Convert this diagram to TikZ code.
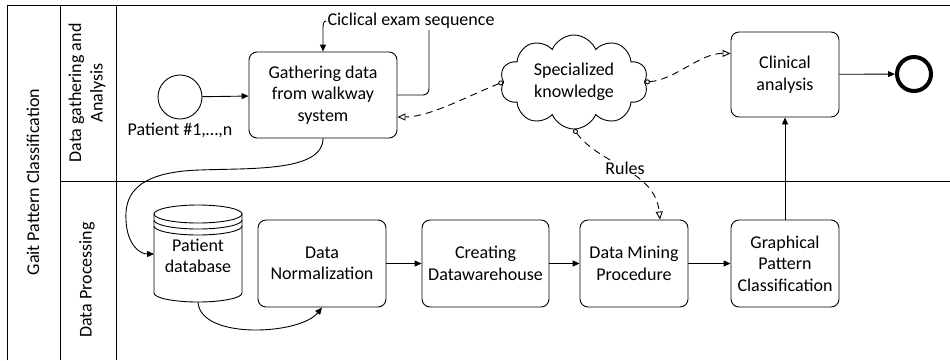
\documentclass[tikz,border=0pt]{standalone}
\usepackage{fontspec}
\setmainfont{Carlito}
\usetikzlibrary{arrows.meta,shapes.symbols}
\begin{document}
\begin{tikzpicture}[x=1pt,y=-1pt,
  every node/.style={font=\fontsize{18}{21.5}\selectfont},
  line/.style={line width=0.9pt},
  task/.style={draw,line width=0.9pt,rounded corners=8pt,align=center,inner sep=2pt},
  flow/.style={line width=0.9pt,-{Triangle[length=7pt,width=6pt]}},
  assoc/.style={line width=0.9pt,dash pattern=on 7pt off 5pt,{Circle[open,length=5pt,width=5pt]}-{Triangle[open,length=8pt,width=7pt]}},
  ]
\useasboundingbox (0,0) rectangle (950,360);
% pool and lanes
\draw[line] (7,360) -- (7,5) -- (950,5);
\draw[line] (60,5) -- (60,360);
\draw[line] (116,5) -- (116,360);
\draw[line] (60,181) -- (950,181);
\node[rotate=90] (pool) at (33,182) {Gait Pattern Classification};
\node[rotate=90,align=center] (lane1) at (87,93) {Data gathering and\\Analysis};
\node[rotate=90] (lane2) at (87,280) {Data Processing};
% nodes
\node[circle,draw,line width=0.9pt,minimum size=44pt,inner sep=0pt] (start) at (180,97) {};
\node (plabel) at (180,130) {Patient \#1,…,n};
\node[task,minimum width=148pt,minimum height=86pt] (gath) at (323,95) {Gathering data\\from walkway\\system};
\node[task,minimum width=108pt,minimum height=85pt] (clin) at (785,74.5) {Clinical\\analysis};
\node[circle,draw,line width=4pt,minimum size=34pt,inner sep=0pt] (end) at (914,74) {};
\node[cloud,draw,line width=0.9pt,cloud puffs=10,cloud puff arc=135,cloud ignores aspect,minimum width=148pt,minimum height=94pt,align=center,inner sep=0pt] (know) at (574,82) {Specialized\\knowledge};
\node[inner sep=1pt] (cyc) at (411,21) {Ciclical exam sequence};
\node[task,minimum width=128pt,minimum height=87pt] (norm) at (322,263.5) {Data\\Normalization};
\node[task,minimum width=127pt,minimum height=87pt] (dw) at (485.5,263.5) {Creating\\Datawarehouse};
\node[task,minimum width=108pt,minimum height=87pt] (dm) at (634,263.5) {Data Mining\\Procedure};
\node[task,minimum width=108pt,minimum height=87pt] (gpc) at (785,263.5) {Graphical\\Pattern\\Classification};
% database cylinder
\draw[line] (154,214) -- (154,293) arc[start angle=180,end angle=360,x radius=44pt,y radius=9pt] -- (242,214);
\draw[line] (198,214) ellipse[x radius=44pt,y radius=9pt];
\draw[line] (154,220) arc[start angle=180,end angle=360,x radius=44pt,y radius=9pt];
\draw[line] (154,226) arc[start angle=180,end angle=360,x radius=44pt,y radius=9pt];
\node[align=center,inner sep=0pt] (db) at (198,256) {Patient\\database};
\coordinate (dbin) at (154,254);
\coordinate (dbout) at (198,302);
% flows
\draw[flow] (start) -- (gath);
\draw[flow] (cyc.west) .. controls (323,21) and (323,24) .. (323,32) -- (gath.north);
\coordinate (loopend) at (429,30);
\draw[line,rounded corners=6pt] (gath.east) -| (loopend);
\draw[flow] (clin) -- (end);
\draw[flow] (gpc) -- (clin);
\draw[flow] (norm) -- (dw);
\draw[flow] (dw) -- (dm);
\draw[flow] (dm) -- (gpc);
\draw[flow] (gath.south) .. controls (323,172) and (250,168) .. (200,170) .. controls (130,172) and (125,200) .. (126,220) .. controls (127,245) and (140,254) .. (dbin);
\draw[flow] (dbout) .. controls (200,340) and (300,335) .. (norm.south);
% associations
\draw[assoc] (know.west) .. controls (470,95) and (430,117) .. ([yshift=-22pt]gath.east);
\draw[assoc] (know.east) .. controls (675,80) and (700,53) .. ([yshift=21pt]clin.west);
\draw[assoc] (know.south) .. controls (600,165) and (655,170) .. ([xshift=26pt]dm.north);
\node[fill=white,inner sep=1pt] (rules) at (625,168) {Rules};
\end{tikzpicture}
\end{document}
